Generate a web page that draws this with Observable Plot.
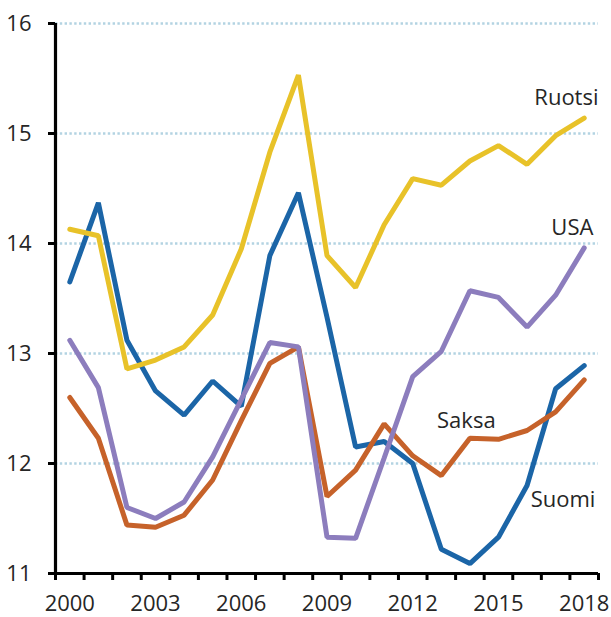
<!DOCTYPE html>
<html><head><meta charset="utf-8">
<script src="https://cdn.jsdelivr.net/npm/d3@7"></script>
<script src="https://cdn.jsdelivr.net/npm/@observablehq/plot@0.6"></script>
<style>body{margin:0;background:#fff}</style>
</head><body><div id="chart"></div>
<script>
const years = [2000,2001,2002,2003,2004,2005,2006,2007,2008,2009,2010,2011,2012,2013,2014,2015,2016,2017,2018];
const suomi  = [13.65,14.37,13.12,12.66,12.44,12.75,12.52,13.89,14.46,13.33,12.15,12.20,12.00,11.22,11.09,11.33,11.80,12.68,12.89];
const ruotsi = [14.13,14.07,12.86,12.94,13.06,13.35,13.95,14.83,15.53,13.89,13.60,14.17,14.59,14.53,14.75,14.89,14.72,14.98,15.14];
const saksa  = [12.60,12.23,11.44,11.42,11.53,11.85,12.39,12.91,13.06,11.70,11.94,12.36,12.07,11.89,12.23,12.22,12.30,12.47,12.76];
const usa    = [13.12,12.69,11.60,11.50,11.65,12.06,12.58,13.10,13.06,11.33,11.32,12.05,12.79,13.02,13.57,13.51,13.24,13.53,13.96];
const seriesNames = ["Suomi","Ruotsi","Saksa","USA"];
const seriesColors = ["#1b65a7","#e8c229","#c6622a","#8c7dbd"];
const yTicks = [11,12,13,14,15,16];
const xLabelYears = [2000,2003,2006,2009,2012,2015,2018];
const labelText = ["Ruotsi","USA","Saksa","Suomi"];
const labelX = [2018.5,2018.32,2014.9,2018.39];
const labelY = [15.32,14.14,12.385,11.67];

const valuesBy = {Suomi: suomi, Ruotsi: ruotsi, Saksa: saksa, USA: usa};
const rows = seriesNames.flatMap(s => years.map((yr,i)=>({series:s, year:yr, value:valuesBy[s][i]})));
const labels = labelText.map((t,i)=>({text:t, x:labelX[i], y:labelY[i]}));
const boundaries = d3.range(years.length+1).map(i => years[0]-0.5+i);

const chart = Plot.plot({
  width: 611, height: 617,
  marginLeft: 55, marginRight: 13, marginTop: 23, marginBottom: 44,
  style: {fontFamily: "'Open Sans', sans-serif", fontSize: "22px", color: "#262626", background: "#fff"},
  x: {domain: [years[0]-0.5, years[years.length-1]+0.5], axis: null},
  y: {domain: [11, 16], axis: null},
  color: {domain: seriesNames, range: seriesColors},
  marks: [
    Plot.ruleY(yTicks.filter(v => v > 11), {stroke: "#b3d3e2", strokeWidth: 2.5, strokeDasharray: "2.4,2.4"}),
    Plot.axisY(yTicks, {tickSize: 7, tickPadding: 17, strokeWidth: 3, stroke: "#000", fill: "#262626", fontSize: 22, tickFormat: d => String(d)}),
    Plot.axisX(boundaries, {tickSize: 7, strokeWidth: 3, stroke: "#000", tickFormat: () => ""}),
    Plot.axisX(xLabelYears, {tickSize: 0, tickPadding: 22, fill: "#262626", fontSize: 22, tickFormat: d => String(d)}),
    Plot.ruleX([years[0]-0.5], {stroke: "#000", strokeWidth: 3.2}),
    Plot.ruleY([11], {stroke: "#000", strokeWidth: 3.2}),
    Plot.line(rows, {x: "year", y: "value", z: "series", stroke: "series", strokeWidth: 5, strokeLinejoin: "miter", strokeLinecap: "round"}),
    Plot.text(labels, {x: "x", y: "y", text: "text", textAnchor: "end", fill: "#262626", fontSize: 22})
  ]
});
document.getElementById("chart").appendChild(chart);
</script>
</body></html>
